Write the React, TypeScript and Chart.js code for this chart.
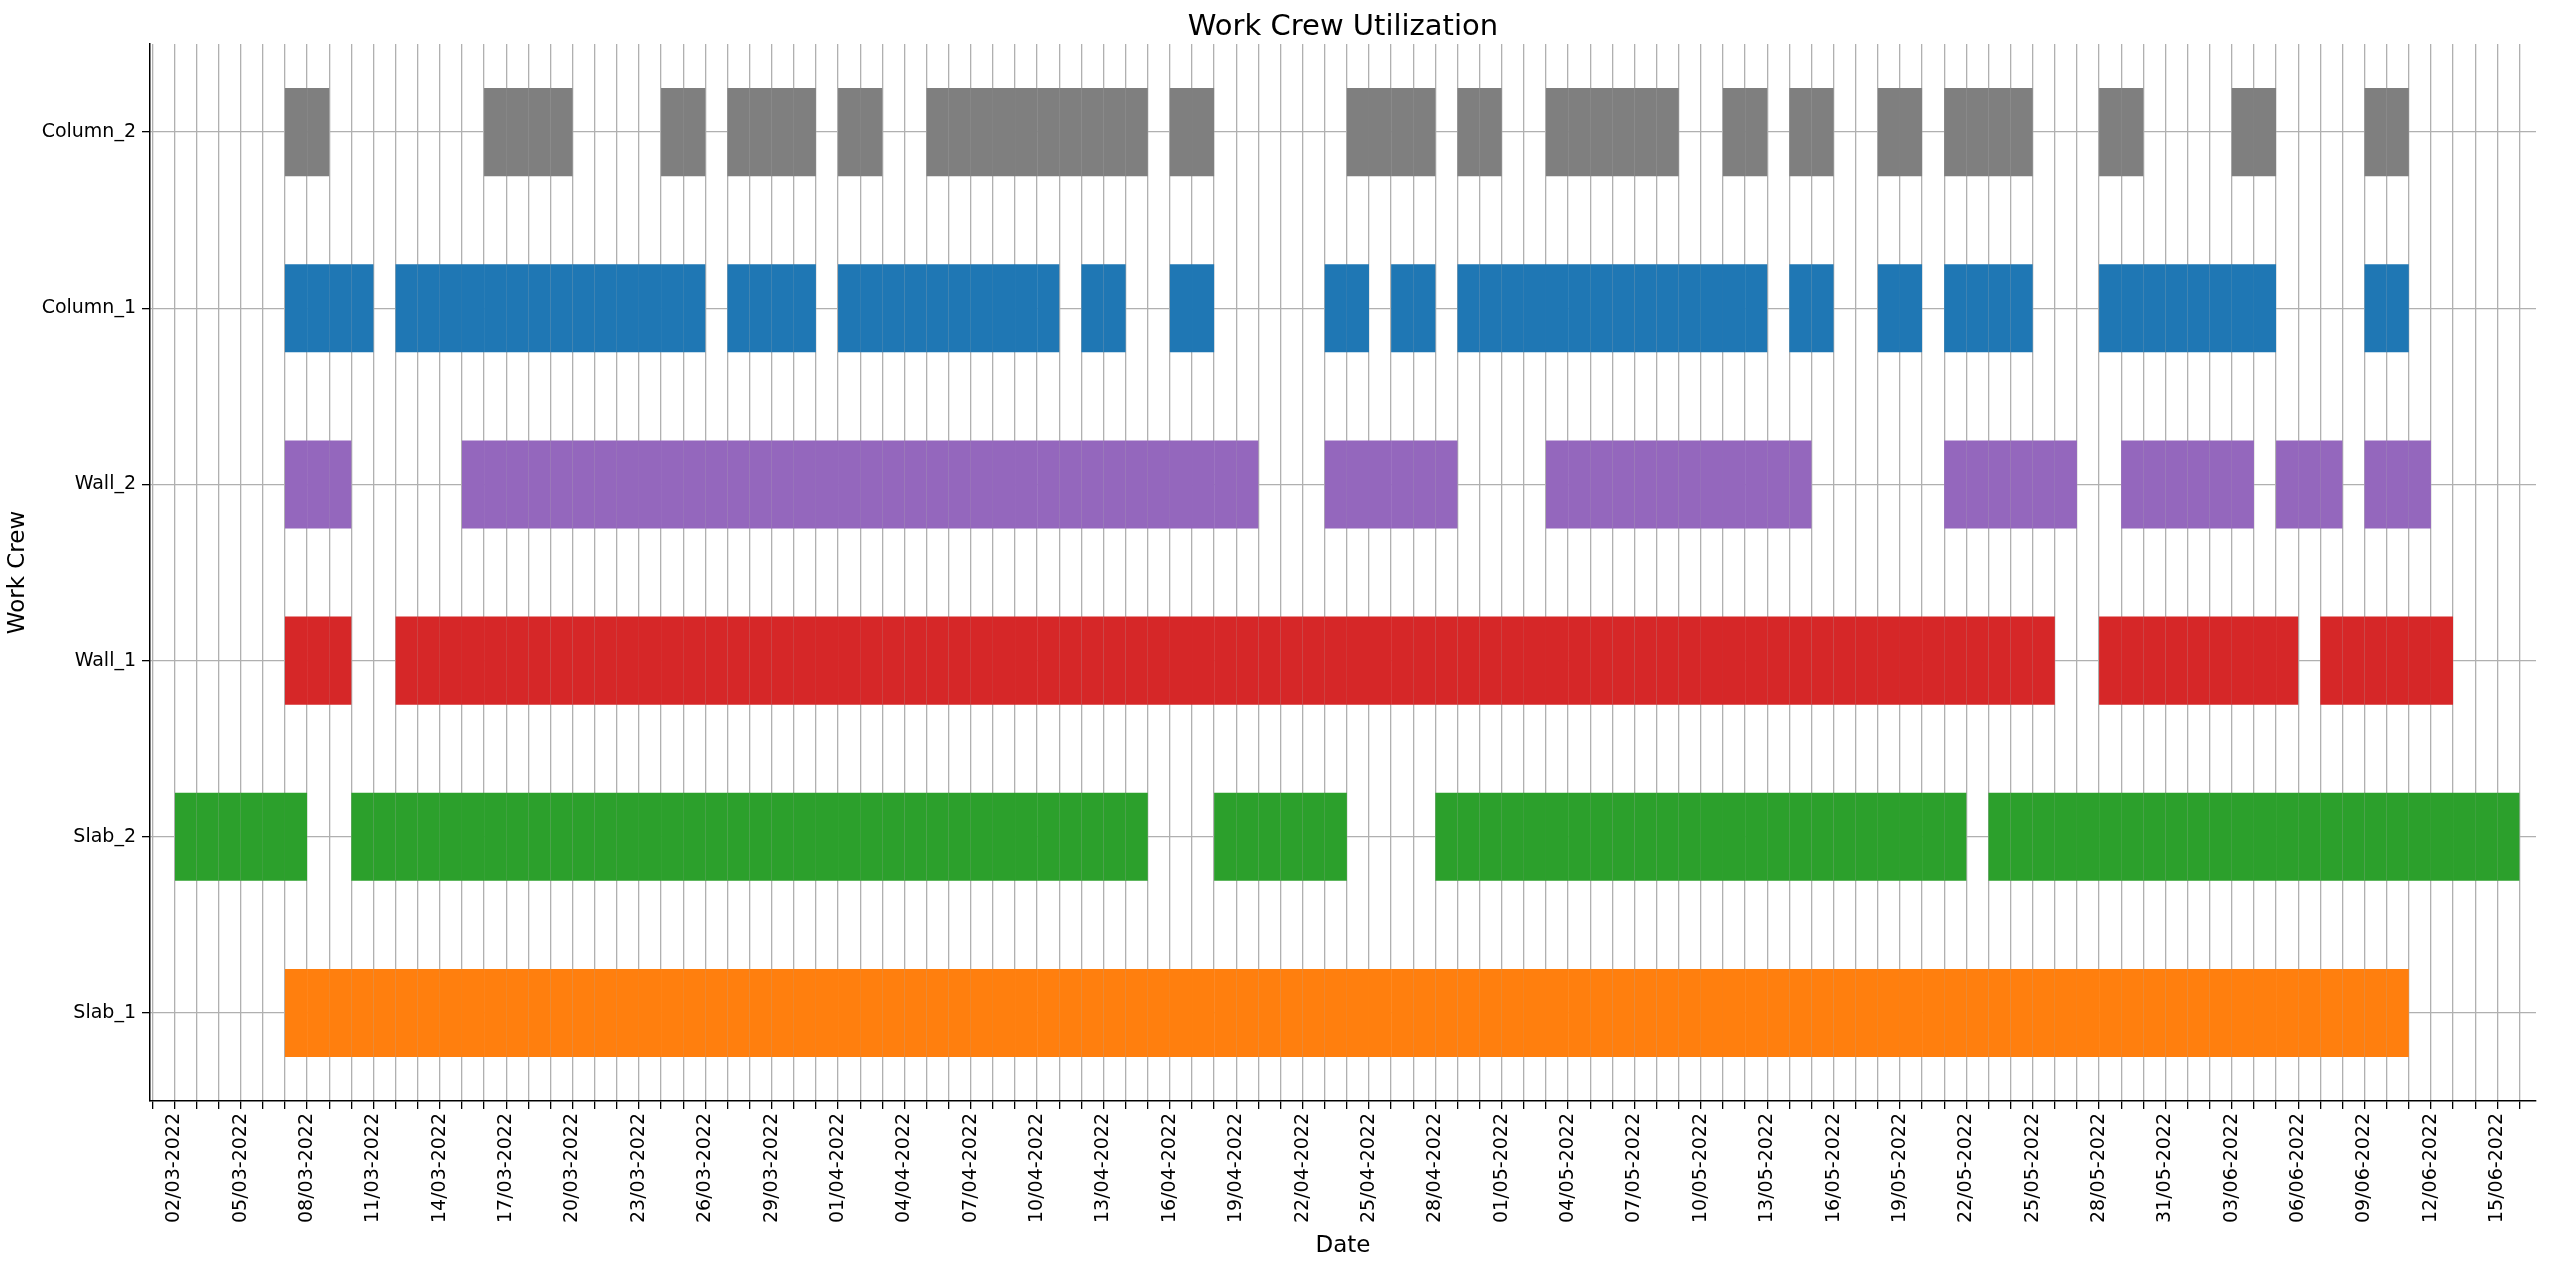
import React, { useEffect, useRef } from "react";
import { Chart, registerables } from "chart.js";
Chart.register(...registerables);

const START_DATE = "2022-03-02";
const crews = ["Column_2", "Column_1", "Wall_2", "Wall_1", "Slab_2", "Slab_1"];
const colors = ["#7f7f7f", "#1f77b4", "#9467bd", "#d62728", "#2ca02c", "#ff7f0e"];
// segments: [start, end) as dates
const column2 = [["2022-03-07","2022-03-09"],["2022-03-16","2022-03-20"],["2022-03-24","2022-03-26"],["2022-03-27","2022-03-31"],["2022-04-01","2022-04-03"],["2022-04-05","2022-04-15"],["2022-04-16","2022-04-18"],["2022-04-24","2022-04-28"],["2022-04-29","2022-05-01"],["2022-05-03","2022-05-09"],["2022-05-11","2022-05-13"],["2022-05-14","2022-05-16"],["2022-05-18","2022-05-20"],["2022-05-21","2022-05-25"],["2022-05-28","2022-05-30"],["2022-06-03","2022-06-05"],["2022-06-09","2022-06-11"]];
const column1 = [["2022-03-07","2022-03-11"],["2022-03-12","2022-03-26"],["2022-03-27","2022-03-31"],["2022-04-01","2022-04-11"],["2022-04-12","2022-04-14"],["2022-04-16","2022-04-18"],["2022-04-23","2022-04-25"],["2022-04-26","2022-04-28"],["2022-04-29","2022-05-13"],["2022-05-14","2022-05-16"],["2022-05-18","2022-05-20"],["2022-05-21","2022-05-25"],["2022-05-28","2022-06-05"],["2022-06-09","2022-06-11"]];
const wall2 = [["2022-03-07","2022-03-10"],["2022-03-15","2022-04-20"],["2022-04-23","2022-04-29"],["2022-05-03","2022-05-15"],["2022-05-21","2022-05-27"],["2022-05-29","2022-06-04"],["2022-06-05","2022-06-08"],["2022-06-09","2022-06-12"]];
const wall1 = [["2022-03-07","2022-03-10"],["2022-03-12","2022-05-26"],["2022-05-28","2022-06-06"],["2022-06-07","2022-06-13"]];
const slab2 = [["2022-03-02","2022-03-08"],["2022-03-10","2022-04-15"],["2022-04-18","2022-04-24"],["2022-04-28","2022-05-22"],["2022-05-23","2022-06-16"]];
const slab1 = [["2022-03-07","2022-06-11"]];
const segmentsByCrew = [column2, column1, wall2, wall1, slab2, slab1];

const DAY = 86400000;
const t0 = Date.UTC(2022, 2, 2);
const toDay = (s: string) => {
  const [y, m, d] = s.split("-").map(Number);
  return Math.round((Date.UTC(y, m - 1, d) - t0) / DAY);
};
const dayLabel = (n: number) => {
  const dt = new Date(t0 + n * DAY);
  const dd = String(dt.getUTCDate()).padStart(2, "0");
  const mm = String(dt.getUTCMonth() + 1).padStart(2, "0");
  return `${dd}/${mm}-${dt.getUTCFullYear()}`;
};

export default function App() {
  const ref = useRef<HTMLCanvasElement>(null);
  useEffect(() => {
    document.body.style.margin = "0";
    const font = "'DejaVu Sans', sans-serif";
    const datasets = crews.map((c, i) => ({
      label: c,
      data: segmentsByCrew[i].flatMap(([s, e]) => {
        const a = toDay(s), b = toDay(e);
        const out: any[] = [];
        for (let d = a; d < b; d++) out.push({ x: [d, d + 1], y: c });
        return out;
      }),
      backgroundColor: colors[i],
      borderWidth: 0,
      grouped: false,
      barPercentage: 0.5,
      categoryPercentage: 1,
    }));
    const titlePlugin = {
      id: "ttl",
      afterDraw(ch: any) {
        const ctx = ch.ctx;
        ctx.save();
        ctx.fillStyle = "#000";
        ctx.font = `29px ${font}`;
        ctx.textAlign = "center";
        ctx.textBaseline = "middle";
        ctx.fillText("Work Crew Utilization", (ch.chartArea.left + ch.chartArea.right) / 2, 27);
        ctx.restore();
      },
    };
    const chart = new Chart(ref.current!, {
      type: "bar",
      data: { labels: crews, datasets: datasets as any },
      plugins: [titlePlugin],
      options: {
        indexAxis: "y",
        animation: false,
        responsive: false,
        devicePixelRatio: 1,
        layout: { padding: { top: 44, right: 24, left: 0, bottom: 0 } },
        plugins: { legend: { display: false }, tooltip: { enabled: false } },
        scales: {
          x: {
            type: "linear",
            min: -1.1,
            max: 106.75,
            z: 1,
            afterFit: (s: any) => { s.height = 165; },
            afterBuildTicks: (s: any) => {
              const t = [];
              for (let d = -1; d <= 106; d++) t.push({ value: d });
              s.ticks = t;
            },
            grid: { color: "#b0b0b0", lineWidth: 1.3, drawTicks: true, tickLength: 8, tickColor: "#000" },
            border: { color: "#000", width: 1.5 },
            ticks: {
              autoSkip: false,
              maxRotation: 90,
              minRotation: 90,
              color: "#000",
              font: { family: font, size: 19 },
              padding: 4,
              callback: (v: any) => (v >= 0 && v % 3 === 0 ? dayLabel(v) : ""),
            },
            title: { display: true, text: "Date", color: "#000", font: { family: font, size: 23 }, padding: { top: 0, bottom: 6 } },
          },
          y: {
            type: "category",
            offset: true,
            z: 1,
            afterFit: (s: any) => { s.width = 150; },
            grid: { color: "#b0b0b0", lineWidth: 1.3, offset: false, tickLength: 8, tickColor: "#000" },
            border: { color: "#000", width: 1.5 },
            ticks: { color: "#000", font: { family: font, size: 19 }, padding: 6 },
            title: { display: true, text: "Work Crew", color: "#000", font: { family: font, size: 23 }, padding: { top: 4, bottom: 0 } },
          },
        },
      },
    });
    return () => chart.destroy();
  }, []);
  return (
    <div style={{ width: 2560, height: 1266, background: "#fff" }}>
      <canvas ref={ref} width={2560} height={1266} style={{ width: 2560, height: 1266, display: "block" }} />
    </div>
  );
}
